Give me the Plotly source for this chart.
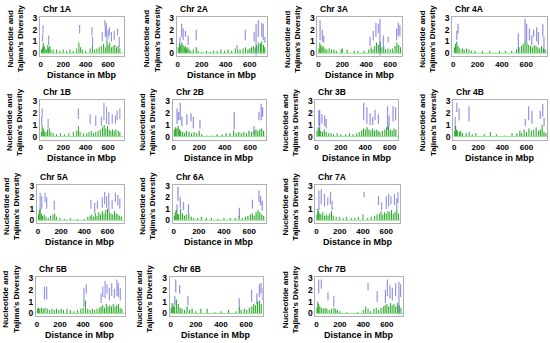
import plotly.graph_objects as go

# ---------------- data (Mbp / diversity values) ----------------
chr_names = ["1A", "2A", "3A", "4A", "1B", "2B", "3B", "4B", "5A", "6A", "7A", "5B", "6B", "7B"]
x_ticks = [0, 200, 400, 600]
y_ticks = [0, 1, 2, 3]

len_1A = 740
g_pos_1A = [5, 15, 22, 30, 38, 50, 62, 70, 80, 90, 110, 140, 170, 200, 230, 260, 290, 320, 340, 355, 370, 400, 440, 460, 480, 500, 520, 540, 560, 575, 590, 600, 615, 630, 645, 660, 675, 690, 705]
g_h_1A = [0.3, 0.5, 0.9, 0.6, 0.4, 0.3, 0.7, 0.5, 0.6, 0.3, 0.3, 0.3, 0.2, 0.3, 0.2, 0.3, 0.2, 0.4, 0.9, 0.5, 0.3, 0.2, 0.4, 0.6, 0.3, 0.4, 0.5, 0.6, 0.8, 0.5, 1.2, 0.7, 0.9, 0.5, 0.6, 0.7, 0.5, 0.6, 0.4]
b_pos_1A = [20, 15, 70, 346, 456, 462, 548, 575, 585, 600, 612, 630, 655, 685, 700, 570]
b_lo_1A = [1.7, 1.0, 0.7, 1.7, 1.5, 0.6, 1.0, 1.4, 1.3, 1.2, 1.5, 1.0, 1.1, 1.5, 0.5, 2.4]
b_hi_1A = [2.4, 1.6, 1.5, 2.4, 2.2, 1.4, 1.8, 2.4, 2.6, 2.0, 2.2, 1.8, 1.9, 2.1, 1.4, 2.8]

len_2A = 740
g_pos_2A = [5, 15, 25, 35, 45, 55, 65, 75, 85, 95, 110, 130, 155, 170, 200, 240, 270, 300, 330, 360, 390, 420, 450, 480, 500, 520, 545, 565, 585, 600, 615, 630, 645, 660, 675, 690, 700, 715, 725]
g_h_2A = [0.5, 0.8, 0.6, 0.9, 0.7, 0.5, 0.6, 0.4, 0.5, 0.3, 0.2, 0.3, 0.5, 0.2, 0.1, 0.2, 0.1, 0.2, 0.2, 0.3, 0.2, 0.3, 0.2, 0.4, 0.3, 0.3, 0.4, 0.5, 0.3, 0.4, 0.5, 0.6, 0.5, 0.7, 0.9, 0.8, 1.0, 0.7, 0.5]
b_pos_2A = [19, 33, 46, 65, 87, 155, 495, 563, 637, 653, 672, 700, 713, 726]
b_lo_2A = [0.6, 1.4, 1.1, 1.4, 0.7, 1.1, 0.3, 1.1, 1.0, -0.2, 1.4, 1.4, 1.1, 0.9]
b_hi_2A = [1.4, 2.5, 2.1, 1.9, 1.5, 2.0, 0.7, 2.0, 1.8, 2.5, 2.8, 2.6, 2.5, 1.4]

len_3A = 700
g_pos_3A = [5, 12, 20, 30, 40, 55, 70, 90, 110, 130, 150, 190, 200, 240, 300, 330, 380, 420, 440, 455, 470, 485, 500, 515, 530, 545, 560, 580, 600, 620, 640, 655, 670, 685]
g_h_3A = [0.4, 0.9, 0.7, 0.5, 0.6, 0.4, 0.3, 0.4, 0.3, 0.3, 0.2, 0.3, 0.4, 0.3, 0.2, 0.2, 0.2, 0.3, 0.5, 0.3, 0.6, 0.9, 0.7, 1.0, 0.5, 0.6, 0.3, 0.4, 0.3, 0.4, 0.6, 0.9, 0.7, 0.5]
b_pos_3A = [14, 33, 45, 431, 458, 480, 500, 514, 542, 583, 653, 667, 680]
b_lo_3A = [1.1, 1.0, 0.9, 0.6, 1.1, 1.4, 1.7, -0.2, 0.6, 0.9, 1.1, 1.5, 1.4]
b_hi_3A = [2.8, 2.0, 1.5, 1.4, 1.9, 2.6, 2.5, 2.9, 1.5, 1.4, 2.1, 2.6, 2.4]

len_4A = 770
g_pos_4A = [10, 20, 30, 40, 55, 75, 90, 110, 130, 150, 180, 240, 300, 380, 430, 480, 520, 540, 560, 575, 590, 605, 620, 635, 650, 665, 680, 695, 710, 725, 740, 755]
g_h_4A = [0.5, 0.8, 1.0, 0.6, 0.4, 0.4, 0.3, 0.4, 0.3, 0.2, 0.2, 0.2, 0.2, 0.2, 0.2, 0.2, 0.3, 0.5, 0.6, 0.8, 1.1, 0.9, 0.7, 0.6, 0.5, 0.7, 0.6, 0.5, 0.4, 0.6, 0.4, 0.3]
b_pos_4A = [30, 40, 535, 590, 603, 626, 645, 660, 685, 700, 735, 745]
b_lo_4A = [1.1, 1.7, 0.0, 1.1, 0.9, 1.1, 0.7, 1.4, 1.0, 0.7, 1.4, 0.0]
b_hi_4A = [1.9, 2.5, 1.7, 2.9, 2.5, 2.1, 1.5, 2.0, 2.2, 1.8, 2.5, 1.4]

len_1B = 740
g_pos_1B = [5, 12, 22, 30, 45, 60, 75, 90, 110, 140, 175, 210, 250, 290, 320, 335, 350, 380, 410, 430, 450, 470, 490, 510, 530, 550, 565, 580, 595, 610, 625, 640, 655, 670, 690, 705]
g_h_1B = [0.4, 0.9, 0.7, 0.5, 0.4, 0.6, 0.7, 0.4, 0.3, 0.2, 0.3, 0.2, 0.3, 0.4, 0.5, 0.9, 0.4, 0.3, 0.3, 0.4, 0.5, 0.3, 0.4, 0.5, 0.6, 0.8, 1.0, 0.7, 0.9, 0.6, 0.5, 0.6, 0.5, 0.6, 0.5, 0.4]
b_pos_1B = [12, 8, 65, 335, 440, 490, 540, 563, 587, 607, 637, 666, 681, 705]
b_lo_1B = [1.7, 0.9, 0.7, 1.5, 1.1, 0.9, 0.9, 1.4, 1.1, 1.0, 1.1, 1.1, 1.4, 1.5]
b_hi_1B = [2.4, 1.7, 1.5, 2.4, 1.9, 1.8, 1.7, 2.9, 2.5, 2.1, 1.9, 1.8, 2.2, 2.4]

len_2B = 720
g_pos_2B = [5, 15, 25, 35, 45, 55, 70, 85, 100, 120, 140, 160, 180, 200, 220, 260, 300, 340, 380, 410, 440, 470, 490, 510, 530, 550, 570, 590, 610, 630, 645, 660, 675, 690, 705]
g_h_2B = [0.6, 0.8, 0.7, 0.9, 0.6, 0.5, 0.4, 0.3, 0.5, 0.4, 0.3, 0.4, 0.3, 0.5, 0.2, 0.1, 0.1, 0.2, 0.2, 0.3, 0.3, 0.5, 0.3, 0.4, 0.3, 0.4, 0.3, 0.5, 0.4, 0.5, 0.6, 0.5, 0.6, 0.7, 0.5]
b_pos_2B = [26, 38, 51, 64, 103, 136, 154, 206, 475, 630, 668, 686, 697]
b_lo_2B = [1.1, 1.4, 1.4, 0.9, 1.0, 1.3, 0.7, 0.7, 0.6, 0.2, 1.4, 1.4, 1.7]
b_hi_2B = [2.4, 2.1, 2.9, 1.7, 1.9, 2.0, 1.7, 1.4, 2.1, 0.9, 2.1, 2.8, 2.5]

len_3B = 670
g_pos_3B = [5, 15, 25, 35, 50, 65, 80, 100, 120, 140, 170, 200, 240, 270, 300, 330, 350, 370, 385, 400, 415, 430, 445, 460, 475, 490, 505, 520, 540, 560, 575, 590, 605, 620, 635, 650]
g_h_3B = [0.5, 0.8, 0.7, 0.5, 0.4, 0.6, 0.4, 0.3, 0.3, 0.2, 0.3, 0.2, 0.2, 0.3, 0.2, 0.3, 0.4, 0.5, 0.7, 0.6, 0.8, 0.6, 0.5, 0.7, 0.5, 0.6, 0.5, 0.4, 0.5, 0.6, 0.8, 0.9, 0.6, 0.5, 0.7, 0.6]
b_pos_3B = [20, 27, 45, 67, 80, 387, 413, 440, 461, 480, 507, 582, 595, 627, 648]
b_lo_3B = [0.9, 0.6, 1.1, 0.9, 0.7, 1.4, 1.1, 1.0, 1.0, 1.4, 1.1, 0.6, 0.9, 1.3, 1.4]
b_hi_3B = [2.3, 2.2, 1.9, 1.8, 1.5, 2.9, 2.5, 2.0, 1.7, 2.3, 1.9, 2.6, 1.8, 2.6, 2.5]

len_4B = 770
g_pos_4B = [5, 12, 20, 30, 45, 55, 70, 100, 125, 150, 180, 250, 300, 350, 420, 480, 520, 545, 560, 580, 600, 620, 640, 660, 680, 700, 715, 730, 745, 760]
g_h_4B = [0.5, 0.9, 0.6, 0.5, 0.4, 0.5, 0.3, 0.3, 0.4, 0.2, 0.3, 0.2, 0.4, 0.2, 0.1, 0.3, 0.3, 0.5, 0.3, 0.6, 0.4, 0.7, 0.5, 0.6, 0.8, 0.5, 0.6, 1.0, 0.4, 0.3]
b_pos_4B = [8, 22, 41, 123, 590, 618, 645, 714, 735, 746]
b_lo_4B = [0.6, 2.1, 1.4, 1.3, 0.9, 1.4, 1.1, 1.5, 1.7, 0.9]
b_hi_4B = [1.7, 2.9, 2.4, 2.6, 1.5, 2.6, 2.2, 2.2, 2.8, 1.6]

len_5A = 740
g_pos_5A = [5, 12, 20, 30, 40, 55, 70, 90, 110, 130, 145, 160, 190, 230, 280, 340, 400, 430, 450, 465, 480, 495, 510, 525, 540, 555, 570, 585, 600, 615, 630, 645, 660, 675, 690, 705, 720]
g_h_5A = [0.5, 0.9, 1.0, 0.6, 0.4, 0.5, 0.3, 0.2, 0.4, 0.5, 0.6, 0.3, 0.2, 0.1, 0.2, 0.1, 0.1, 0.3, 0.4, 0.5, 0.3, 0.6, 0.4, 0.7, 0.5, 0.8, 0.6, 0.9, 1.0, 0.7, 0.6, 0.5, 0.8, 0.6, 0.5, 0.4, 0.3]
b_pos_5A = [20, 34, 62, 76, 141, 457, 490, 513, 555, 575, 592, 611, 640, 668, 689, 706]
b_lo_5A = [0.9, 1.0, 1.6, 1.0, 0.9, 1.0, 0.6, 1.0, 1.1, 1.4, 1.1, 0.7, 1.0, 1.6, 1.3, 1.0]
b_hi_5A = [2.4, 2.1, 2.4, 2.0, 1.7, 1.8, 1.5, 1.7, 2.0, 2.5, 2.1, 2.4, 1.8, 2.4, 2.2, 1.9]

len_6A = 730
g_pos_6A = [5, 12, 20, 30, 40, 55, 70, 85, 100, 120, 140, 160, 190, 220, 260, 300, 350, 400, 450, 490, 520, 545, 570, 590, 610, 625, 640, 655, 670, 685, 700, 715]
g_h_6A = [0.4, 0.7, 0.9, 0.6, 0.5, 1.0, 0.6, 0.4, 0.5, 0.6, 0.3, 0.2, 0.2, 0.3, 0.2, 0.2, 0.1, 0.2, 0.2, 0.2, 0.4, 0.2, 0.3, 0.4, 0.5, 0.6, 0.4, 0.7, 0.9, 0.7, 0.5, 0.4]
b_pos_6A = [26, 34, 52, 78, 117, 522, 626, 678, 691, 704]
b_lo_6A = [0.7, 1.7, 1.1, 0.9, 0.6, 0.3, 1.0, 1.6, 1.3, 0.8]
b_hi_6A = [1.4, 2.9, 2.0, 1.6, 1.4, 1.1, 1.8, 2.6, 2.1, 1.7]

len_7A = 720
g_pos_7A = [5, 12, 20, 30, 40, 55, 70, 85, 100, 115, 130, 145, 170, 200, 230, 260, 300, 330, 360, 400, 440, 470, 500, 520, 540, 555, 570, 585, 600, 615, 630, 645, 660, 675, 690, 705]
g_h_7A = [0.5, 1.0, 0.8, 0.6, 0.5, 0.7, 0.4, 0.5, 0.4, 0.6, 0.8, 0.4, 0.3, 0.3, 0.2, 0.3, 0.2, 0.2, 0.3, 0.5, 0.2, 0.3, 0.4, 0.5, 0.6, 0.8, 0.5, 0.7, 0.6, 0.8, 0.7, 0.9, 0.6, 0.7, 1.0, 0.6]
b_pos_7A = [22, 42, 70, 98, 121, 135, 410, 533, 560, 600, 620, 640, 670, 690, 700]
b_lo_7A = [0.9, 1.4, 1.2, 1.3, 1.4, 0.9, 2.0, 1.3, 0.9, 1.0, 1.2, 1.4, 1.3, 1.0, 1.5]
b_hi_7A = [2.6, 2.7, 2.3, 2.0, 2.5, 1.7, 2.5, 2.1, 1.6, 2.1, 2.3, 2.1, 2.3, 1.9, 2.5]

len_5B = 760
g_pos_5B = [5, 15, 25, 40, 55, 70, 90, 110, 130, 150, 170, 190, 210, 230, 260, 290, 320, 350, 380, 400, 420, 440, 460, 480, 500, 520, 540, 555, 570, 585, 600, 615, 630, 645, 660, 675, 690, 705, 720, 735]
g_h_5B = [0.4, 0.5, 0.4, 0.5, 0.4, 0.5, 0.4, 0.3, 0.4, 0.3, 0.4, 0.3, 0.4, 0.3, 0.4, 0.3, 0.2, 0.3, 0.4, 0.5, 1.1, 0.4, 0.3, 0.4, 0.3, 0.4, 0.5, 0.6, 0.7, 0.5, 0.8, 0.6, 0.7, 0.6, 0.8, 0.6, 0.7, 0.8, 0.5, 0.4]
b_pos_5B = [66, 85, 407, 427, 555, 570, 590, 607, 627, 647, 670, 692, 704, 721]
b_lo_5B = [1.2, 1.2, 0.6, 1.7, 0.9, 1.4, 1.3, 1.7, 1.1, 1.5, 1.3, 1.5, 1.4, 1.1]
b_hi_5B = [2.3, 2.3, 2.2, 2.5, 1.7, 2.3, 2.8, 2.5, 2.2, 2.6, 2.1, 2.9, 2.6, 2.2]

len_6B = 730
g_pos_6B = [5, 12, 20, 30, 45, 60, 75, 90, 110, 130, 150, 170, 200, 240, 290, 350, 400, 460, 520, 545, 560, 585, 605, 625, 645, 660, 675, 690, 705, 720]
g_h_6B = [0.5, 0.9, 0.7, 0.6, 1.2, 0.8, 0.5, 0.4, 0.3, 0.6, 0.3, 0.4, 0.2, 0.4, 0.4, 0.1, 0.2, 0.3, 0.2, 0.5, 0.3, 0.4, 0.3, 0.5, 0.6, 0.8, 0.7, 1.0, 1.1, 0.8]
b_pos_6B = [40, 32, 71, 137, 545, 643, 685, 705, 718, 730]
b_lo_6B = [1.8, 0.7, 1.7, 0.7, 0.4, 1.0, 0.8, 1.4, 1.7, 1.1]
b_hi_6B = [2.9, 1.5, 2.4, 1.5, 1.3, 2.0, 1.7, 2.5, 2.6, 2.2]

len_7B = 740
g_pos_7B = [5, 12, 20, 30, 45, 60, 75, 90, 110, 130, 150, 165, 180, 200, 260, 350, 400, 420, 440, 460, 490, 510, 530, 550, 570, 585, 600, 615, 630, 645, 660, 675, 690, 705, 720]
g_h_7B = [0.5, 1.0, 0.8, 0.6, 0.5, 0.4, 0.5, 0.4, 0.3, 0.4, 0.5, 0.4, 0.3, 0.2, 0.1, 0.1, 0.3, 0.6, 0.4, 0.2, 0.4, 0.5, 0.3, 0.5, 0.6, 0.7, 0.8, 0.6, 0.9, 0.7, 0.8, 0.6, 0.9, 0.7, 0.5]
b_pos_7B = [20, 42, 99, 149, 440, 518, 588, 605, 627, 647, 675, 703, 717]
b_lo_7B = [1.7, 2.1, 1.1, 0.6, 2.0, 1.0, 0.9, 1.5, 1.3, 1.1, 1.5, -0.1, 1.4]
b_hi_7B = [2.9, 2.9, 1.8, 1.5, 2.6, 1.9, 2.0, 2.9, 2.4, 2.2, 2.6, 2.7, 2.5]

# ---------------- layout (pixels in a 550 x 343 page) ----------------
W, H = 550, 343
# name: (left, right, top, bottom, has x title)
boxes = {
    "1A": (39, 123, 13, 53, True), "2A": (176, 266, 13, 53, True),
    "3A": (317, 402, 13, 53, True), "4A": (452, 547, 13, 53, False),
    "1B": (39, 123, 98, 138, True), "2B": (172, 265, 98, 138, True),
    "3B": (315, 398, 98, 138, True), "4B": (453, 547, 98, 138, True),
    "5A": (36, 123, 184, 223, True), "6A": (172, 265, 184, 223, True),
    "7A": (315, 400, 184, 223, True),
    "5B": (35, 124, 278, 318, True), "6B": (169, 262, 278, 318, True),
    "7B": (315, 403, 278, 318, True),
}

g = globals()
FONT = "Liberation Sans Narrow, Liberation Sans, Arial, sans-serif"
GREEN = "rgba(25,160,25,0.9)"
LIGHTGREEN = "rgb(150,228,150)"
BLUE = "rgba(60,60,205,0.55)"

fig = go.Figure()
annotations = []
layout_axes = {}
for i, name in enumerate(chr_names, start=1):
    L = g["len_" + name]
    gp, gh = g["g_pos_" + name], g["g_h_" + name]
    bp, blo, bhi = g["b_pos_" + name], g["b_lo_" + name], g["b_hi_" + name]
    xa, ya = ("x" if i == 1 else f"x{i}"), ("y" if i == 1 else f"y{i}")
    fig.add_trace(go.Scatter(x=[0, L], y=[0, 0], mode="lines",
                             line=dict(color=LIGHTGREEN, width=1),
                             xaxis=xa, yaxis=ya, showlegend=False, hoverinfo="skip"))
    fig.add_trace(go.Bar(x=gp, y=gh, width=9, marker=dict(color=GREEN, line=dict(width=0)),
                         xaxis=xa, yaxis=ya, showlegend=False))
    fig.add_trace(go.Bar(x=bp, y=[h - l for l, h in zip(blo, bhi)], base=blo, width=10,
                         marker=dict(color=BLUE, line=dict(width=0)),
                         xaxis=xa, yaxis=ya, showlegend=False))
    left, right, top, bottom, has_xt = boxes[name]
    xd = [left / W, right / W]
    yd = [1 - bottom / H, 1 - top / H]
    sfx = "" if i == 1 else str(i)
    layout_axes["xaxis" + sfx] = dict(
        domain=xd, range=[-8, L], anchor=ya, tickvals=x_ticks, showgrid=False, zeroline=False,
        showline=True, mirror=True, linecolor="#b0b0b0", linewidth=1, ticks="",
        tickfont=dict(family=FONT, size=8, color="#000", weight="bold"))
    layout_axes["yaxis" + sfx] = dict(
        domain=yd, range=[-0.25, 3.1], anchor=xa, tickvals=y_ticks, showgrid=False, zeroline=False,
        showline=True, mirror=True, linecolor="#b0b0b0", linewidth=1, ticks="",
        tickfont=dict(family=FONT, size=8.5, color="#000", weight="bold"))
    annotations.append(dict(text="Chr " + name, xref="paper", yref="paper",
                            x=(left + 1) / W, y=1 - (top - 1) / H, xanchor="left", yanchor="bottom",
                            showarrow=False, font=dict(family=FONT, size=8.5, color="#000", weight="bold")))
    annotations.append(dict(text="Nucleotide and<br>Tajima's Diversity", xref="paper", yref="paper",
                            x=(left - 25) / W, y=1 - ((top + bottom) / 2 + 2) / H, xanchor="center", yanchor="middle",
                            textangle=-90, showarrow=False,
                            font=dict(family=FONT, size=8, color="#000", weight="bold")))
    if has_xt:
        annotations.append(dict(text="Distance in Mbp", xref="paper", yref="paper",
                                x=(left + right) / 2 / W, y=1 - (bottom + 19) / H, xanchor="center", yanchor="middle",
                                showarrow=False, font=dict(family=FONT, size=9, color="#000", weight="bold")))

fig.update_layout(width=W, height=H, margin=dict(l=0, r=0, t=0, b=0),
                  paper_bgcolor="white", plot_bgcolor="white", barmode="overlay",
                  annotations=annotations, **layout_axes)
fig.write_html("out.html", config={"displayModeBar": False},
               post_script="document.body.style.margin='0';")
